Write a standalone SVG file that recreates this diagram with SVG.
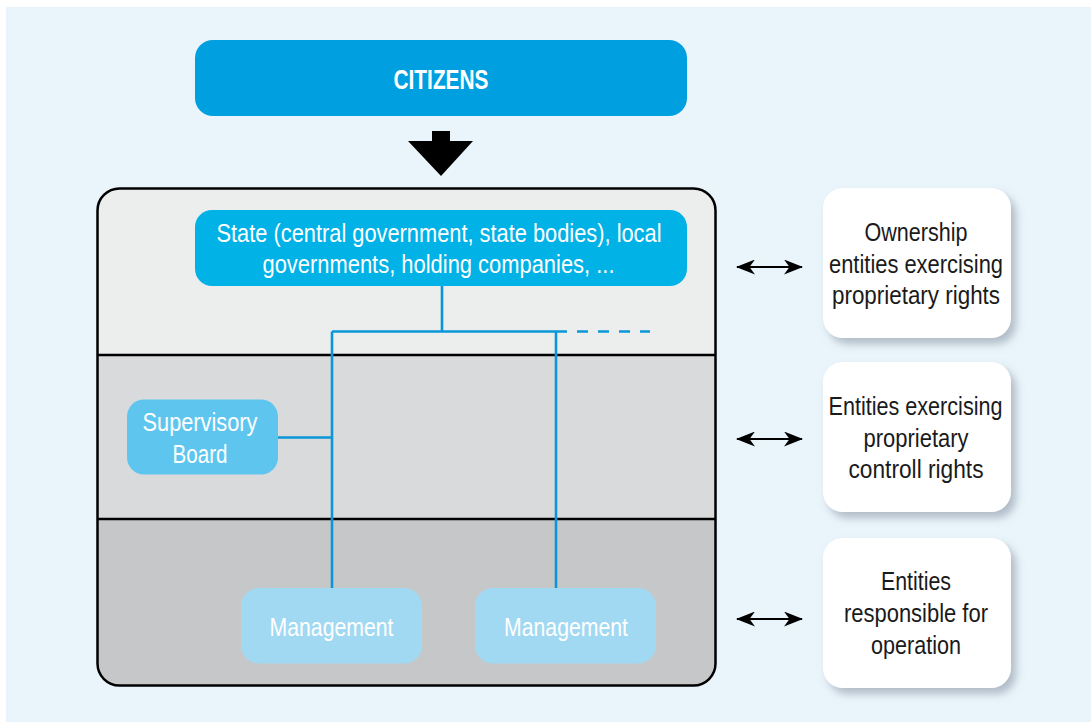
<svg xmlns="http://www.w3.org/2000/svg" width="1091" height="722" viewBox="0 0 1091 722">
  <defs>
    <style>
      .t { font-family: "Liberation Sans", Arial, sans-serif; font-size: 26px; text-anchor: middle; }
      .w { fill: #ffffff; }
      .k { fill: #1a1a1a; }
      .conn { stroke: #0A97D7; stroke-width: 2.6; fill: none; }
      .dbl { stroke: #000; stroke-width: 2.2; fill: none; marker-start: url(#ah); marker-end: url(#ah); }
      .side { fill: #ffffff; filter: url(#sh); }
    </style>
    <marker id="ah" viewBox="0 0 19 15" refX="18" refY="7.5" markerWidth="19" markerHeight="15" markerUnits="userSpaceOnUse" orient="auto-start-reverse">
      <path d="M0,0 L19,7.5 L0,15 L5.5,7.5 Z" fill="#000"/>
    </marker>
    <filter id="sh" x="-20%" y="-20%" width="150%" height="150%">
      <feDropShadow dx="5" dy="6" stdDeviation="4" flood-color="#7f8f9c" flood-opacity="0.55"/>
    </filter>
    <clipPath id="mainclip">
      <rect x="97.5" y="188.5" width="618" height="497" rx="22"/>
    </clipPath>
  </defs>

  <rect x="6" y="7" width="1085" height="715" fill="#EAF4FB"/>

  <g id="citizens">
    <rect x="195" y="40" width="492" height="76" rx="18" fill="#009FE0"/>
    <text x="441" y="88.5" class="w" style="font-family:'Liberation Sans',Arial,sans-serif;font-size:28px;font-weight:bold;text-anchor:middle" textLength="95" lengthAdjust="spacingAndGlyphs">CITIZENS</text>
  </g>

  <g id="down-arrow">
    <polygon points="432,131 450,131 450,141 473,141 441,176 408,141 432,141" fill="#000"/>
  </g>

  <g id="main-frame">
    <g clip-path="url(#mainclip)">
      <rect x="97" y="188" width="620" height="167" fill="#ECEDED"/>
      <rect x="97" y="355" width="620" height="164" fill="#D9DADC"/>
      <rect x="97" y="519" width="620" height="168" fill="#C6C7C9"/>
    </g>
    <line x1="97.5" y1="355" x2="715.5" y2="355" stroke="#000" stroke-width="2.5"/>
    <line x1="97.5" y1="519" x2="715.5" y2="519" stroke="#000" stroke-width="2.5"/>
    <rect x="97.5" y="188.5" width="618" height="497" rx="22" fill="none" stroke="#000" stroke-width="2.5"/>
  </g>

  <g id="connectors">
    <path class="conn" d="M442,286 V331.5 M332,331.5 H567 M332,331.5 V588 M556,331.5 V588 M278,437.5 H332"/>
    <path class="conn" d="M577,331.5 H650" stroke-dasharray="11 10"/>
    <path class="dbl" d="M737,267 H802"/>
    <path class="dbl" d="M737,439 H802"/>
    <path class="dbl" d="M737,619 H802"/>
  </g>

  <g id="state">
    <rect x="195" y="210" width="492" height="76" rx="17" fill="#00B2E6"/>
    <text class="t w" x="439" y="242" textLength="445" lengthAdjust="spacingAndGlyphs">State (central government, state bodies), local</text>
    <text class="t w" x="438.5" y="273" textLength="352" lengthAdjust="spacingAndGlyphs">governments, holding companies, ...</text>
  </g>

  <g id="supervisory-board">
    <rect x="127" y="399.5" width="151" height="75" rx="17" fill="#5EC6EE"/>
    <text class="t w" x="200" y="431" textLength="115" lengthAdjust="spacingAndGlyphs">Supervisory</text>
    <text class="t w" x="200" y="463" textLength="55" lengthAdjust="spacingAndGlyphs">Board</text>
  </g>

  <g id="management-1">
    <rect x="241" y="588" width="181" height="75.5" rx="18" fill="#A2D9F2"/>
    <text class="t w" x="331.5" y="636" textLength="124" lengthAdjust="spacingAndGlyphs">Management</text>
  </g>

  <g id="management-2">
    <rect x="475" y="588" width="181" height="75.5" rx="18" fill="#A2D9F2"/>
    <text class="t w" x="566" y="636" textLength="124" lengthAdjust="spacingAndGlyphs">Management</text>
  </g>

  <g id="ownership-entities">
    <rect class="side" x="823" y="188" width="188" height="150" rx="20"/>
    <text class="t k" x="916" y="241" textLength="103" lengthAdjust="spacingAndGlyphs">Ownership</text>
    <text class="t k" x="916" y="272.5" textLength="174" lengthAdjust="spacingAndGlyphs">entities exercising</text>
    <text class="t k" x="916" y="304" textLength="168" lengthAdjust="spacingAndGlyphs">proprietary rights</text>
  </g>

  <g id="control-entities">
    <rect class="side" x="823" y="362" width="188" height="150" rx="20"/>
    <text class="t k" x="915.5" y="415" textLength="174" lengthAdjust="spacingAndGlyphs">Entities exercising</text>
    <text class="t k" x="916" y="446.5" textLength="105" lengthAdjust="spacingAndGlyphs">proprietary</text>
    <text class="t k" x="916" y="478" textLength="135" lengthAdjust="spacingAndGlyphs">controll rights</text>
  </g>

  <g id="operation-entities">
    <rect class="side" x="823" y="538" width="188" height="150" rx="20"/>
    <text class="t k" x="916" y="590" textLength="70" lengthAdjust="spacingAndGlyphs">Entities</text>
    <text class="t k" x="916" y="622" textLength="144" lengthAdjust="spacingAndGlyphs">responsible for</text>
    <text class="t k" x="916" y="653.5" textLength="90" lengthAdjust="spacingAndGlyphs">operation</text>
  </g>
</svg>
